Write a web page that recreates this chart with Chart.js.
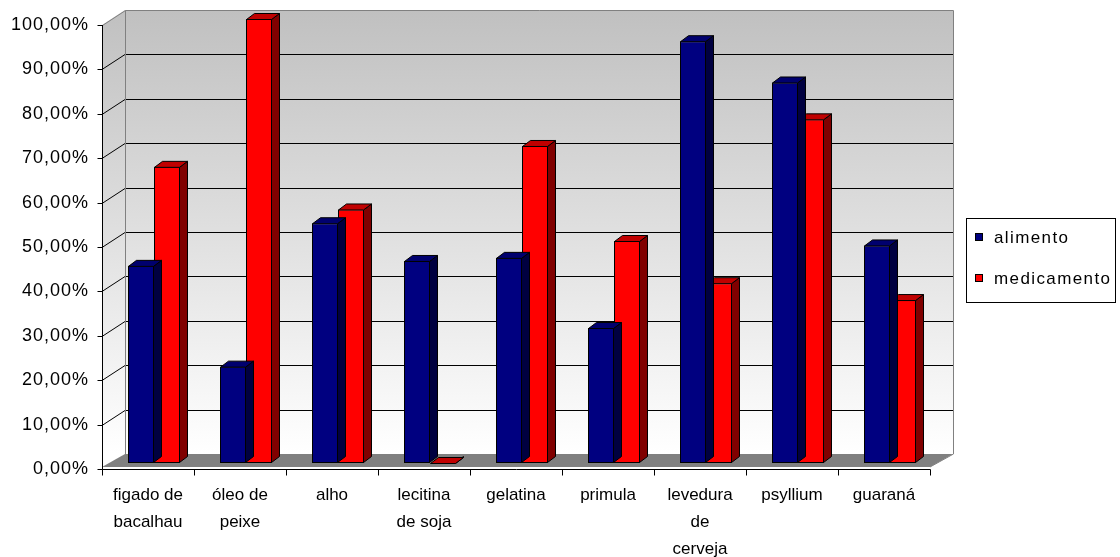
<!DOCTYPE html>
<html>
<head>
<meta charset="utf-8">
<script src="https://cdn.jsdelivr.net/npm/chart.js@4.4.1/dist/chart.umd.min.js"></script>
<style>
  html, body { margin: 0; padding: 0; background: #ffffff; }
  #wrap { width: 1120px; height: 557px; }
</style>
</head>
<body>
<div id="wrap"><canvas id="chart" width="1120" height="557"></canvas></div>
<script>
// ---- data ----
const categories = [
  ['figado de', 'bacalhau'],
  ['óleo de', 'peixe'],
  'alho',
  ['lecitina', 'de soja'],
  'gelatina',
  'primula',
  ['levedura', 'de', 'cerveja'],
  'psyllium',
  'guaraná'
];
const seriesNames = ['alimento', 'medicamento'];
const alimento    = [44.4, 21.7, 54.0, 45.5, 46.2, 30.4, 95.0, 85.7, 49.0];
const medicamento = [66.7, 100.0, 57.1, 0.0, 71.4, 50.0, 40.5, 77.4, 36.7];
const yMin = 0, yMax = 100, yStep = 10;

// ---- look ----
const FONT = "'Liberation Sans', Arial, sans-serif";
const frontColors = ['#000080', '#FF0000'];
const topColors   = ['#00006E', '#C00000'];
const sideColors  = ['#000040', '#800000'];
const WALL = { dx: 23, dy: -15 };        // depth of the back wall
const PLANE = { dx: 6, dy: -6 };         // where the bar fronts sit
const DEPTH = { dx: 8, dy: -6 };         // depth of each bar

const pct = v => v.toFixed(2).replace('.', ',') + '%';

function poly(ctx, pts) {
  ctx.beginPath();
  ctx.moveTo(pts[0][0], pts[0][1]);
  for (let i = 1; i < pts.length; i++) ctx.lineTo(pts[i][0], pts[i][1]);
  ctx.closePath();
}
function line(ctx, x1, y1, x2, y2) {
  ctx.beginPath(); ctx.moveTo(x1, y1); ctx.lineTo(x2, y2); ctx.stroke();
}

const scene3d = {
  id: 'scene3d',
  beforeDatasetsDraw(chart) {
    const { ctx, chartArea: a, scales: { y } } = chart;
    const L = a.left, R = a.right, T = y.getPixelForValue(yMax), B = y.getPixelForValue(yMin);
    const dx = WALL.dx, dy = WALL.dy;
    ctx.save();
    const g = ctx.createLinearGradient(0, T + dy, 0, B + dy);
    g.addColorStop(0, '#C0C0C0');
    g.addColorStop(1, '#FFFFFF');
    ctx.fillStyle = g;
    // side wall
    poly(ctx, [[L, T], [L + dx, T + dy], [L + dx, B + dy], [L, B]]);
    ctx.fill();
    // back wall
    ctx.fillRect(L + dx, T + dy, R - L, B - T);
    // floor
    ctx.fillStyle = '#808080';
    poly(ctx, [[L, B - 2], [R, B - 2], [R + dx, B + dy], [L + dx, B + dy]]);
    ctx.fill();
    // grid lines on the walls
    ctx.lineWidth = 1;
    ctx.strokeStyle = '#000000';
    y.ticks.forEach(t => {
      if (t.value <= yMin || t.value >= yMax) return;
      const py = Math.round(y.getPixelForValue(t.value)) + 0.5;
      ctx.beginPath();
      ctx.moveTo(L, py);
      ctx.lineTo(L + dx, py + dy);
      ctx.lineTo(R + dx, py + dy);
      ctx.stroke();
    });
    // wall outlines
    ctx.strokeStyle = '#808080';
    const tb = Math.round(T + dy) + 0.5;
    ctx.beginPath();
    ctx.moveTo(L + 0.5, Math.round(T) + 0.5);
    ctx.lineTo(L + dx + 0.5, tb);
    ctx.lineTo(R + dx + 0.5, tb);
    ctx.lineTo(R + dx + 0.5, B + dy);
    ctx.lineTo(R, B - 2);
    ctx.stroke();
    line(ctx, L + dx + 0.5, tb, L + dx + 0.5, B + dy);
    ctx.restore();

    // bars live on a plane slightly behind the front axes
    ctx.save();
    ctx.translate(PLANE.dx, PLANE.dy);
  },
  afterDatasetDraw(chart, args) {
    const { ctx } = chart;
    const i = args.index;
    ctx.save();
    ctx.lineWidth = 1;
    ctx.strokeStyle = '#000000';
    args.meta.data.forEach(el => {
      const p = el.getProps(['x', 'y', 'base', 'width'], true);
      const l = p.x - p.width / 2 + 0.5, r = p.x + p.width / 2 - 0.5;
      const top = Math.min(p.y, p.base) + 0.5, bot = Math.max(p.y, p.base) - 0.5;
      ctx.fillStyle = sideColors[i];
      poly(ctx, [[r, top], [r + DEPTH.dx, top + DEPTH.dy], [r + DEPTH.dx, bot + DEPTH.dy], [r, bot]]);
      ctx.fill(); ctx.stroke();
      ctx.fillStyle = topColors[i];
      poly(ctx, [[l, top], [l + DEPTH.dx, top + DEPTH.dy], [r + DEPTH.dx, top + DEPTH.dy], [r, top]]);
      ctx.fill(); ctx.stroke();
    });
    ctx.restore();
  },
  afterDatasetsDraw(chart) {
    chart.ctx.restore();
  },
  afterDraw(chart) {
    const { ctx, chartArea: a, scales: { x, y } } = chart;
    const L = a.left, R = a.right, T = y.getPixelForValue(yMax), B = y.getPixelForValue(yMin);
    const Lp = Math.round(L) + 0.5, Bp = Math.round(B) + 0.5;
    ctx.save();
    ctx.lineWidth = 1;
    ctx.strokeStyle = '#000000';
    // front value axis and its ticks
    line(ctx, Lp, Math.round(T), Lp, Bp);
    y.ticks.forEach(t => {
      const py = Math.round(y.getPixelForValue(t.value)) + 0.5;
      line(ctx, Lp - 5, py, Lp, py);
    });
    // front category axis and its ticks
    line(ctx, Lp, Bp, Math.round(R) + 0.5, Bp);
    const n = x.ticks.length;
    for (let k = 0; k <= n; k++) {
      const px = Math.round(L + (R - L) * k / n) + 0.5;
      line(ctx, px, Bp, px, Bp + 6);
    }
    // value labels
    ctx.fillStyle = '#000000';
    ctx.font = '18px ' + FONT;
    ctx.textAlign = 'right';
    ctx.textBaseline = 'middle';
    ctx.letterSpacing = '1px';
    y.ticks.forEach(t => {
      ctx.fillText(pct(t.value), L - 13, y.getPixelForValue(t.value));
    });
    // legend
    const lx = 966.5, ly = 218.5, lw = 149, lh = 84;
    ctx.strokeRect(lx, ly, lw, lh);
    ctx.font = '17px ' + FONT;
    ctx.textAlign = 'left';
    ctx.letterSpacing = '1.4px';
    chart.data.datasets.forEach((ds, i) => {
      const cy = 237 + i * 41;
      ctx.fillStyle = ds.backgroundColor;
      ctx.fillRect(975, cy - 4, 8, 8);
      ctx.strokeRect(975.5, cy - 3.5, 7, 7);
      ctx.fillStyle = '#000000';
      ctx.fillText(ds.label, 994, cy + 1);
    });
    ctx.restore();
  }
};

new Chart(document.getElementById('chart'), {
  type: 'bar',
  data: {
    labels: categories,
    datasets: [
      { label: seriesNames[0], data: alimento, backgroundColor: frontColors[0] },
      { label: seriesNames[1], data: medicamento, backgroundColor: frontColors[1] }
    ]
  },
  options: {
    responsive: false,
    animation: false,
    devicePixelRatio: 1,
    layout: { padding: { top: 25, right: 190, left: 0, bottom: 0 } },
    datasets: {
      bar: {
        borderColor: '#000000',
        borderWidth: 1,
        borderSkipped: false,
        categoryPercentage: 52 / 92,
        barPercentage: 1,
        clip: false
      }
    },
    plugins: {
      legend: { display: false },
      tooltip: { enabled: false }
    },
    scales: {
      x: {
        grid: { display: false },
        border: { display: false },
        ticks: {
          color: '#000000',
          autoSkip: false,
          maxRotation: 0,
          minRotation: 0,
          padding: 5,
          font: { family: FONT, size: 17, lineHeight: '27px' }
        },
        afterFit(scale) { scale.height = 88; }
      },
      y: {
        min: yMin,
        max: yMax,
        grid: { display: false },
        border: { display: false },
        ticks: { stepSize: yStep, display: false, callback: v => pct(v) },
        afterFit(scale) { scale.width = 102; }
      }
    }
  },
  plugins: [scene3d]
});
</script>
</body>
</html>
